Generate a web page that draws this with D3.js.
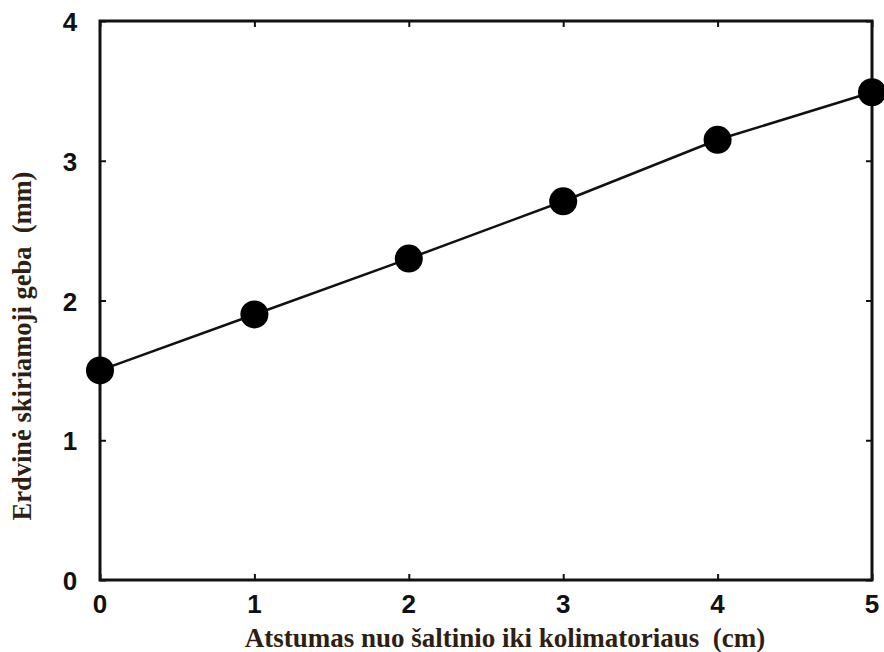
<!DOCTYPE html>
<html lang="lt">
<head>
<meta charset="utf-8">
<title>Erdvinė skiriamoji geba</title>
<script src="https://cdn.jsdelivr.net/npm/d3@7"></script>
<style>
  body { margin: 0; background: #fff; }
  .tick-label { font-family: "Liberation Sans", Arial, sans-serif; font-weight: bold; font-size: 26px; fill: #111; }
  .title { font-family: "Liberation Serif", "Times New Roman", serif; font-weight: bold; fill: #2e1f12; white-space: pre; }
</style>
</head>
<body>
<script>
// data
var distance = [0, 1, 2, 3, 4, 5];
var resolution = [1.5, 1.9, 2.3, 2.71, 3.15, 3.49];
var xTicks = [0, 1, 2, 3, 4, 5];
var yTicks = [0, 1, 2, 3, 4];

var w = 884, h = 652;
var mLeft = 100, mRight = 872, mTop = 21, mBottom = 580;

var svg = d3.select("body").append("svg")
  .attr("width", w)
  .attr("height", h);

var x = d3.scaleLinear().domain([0, 5]).range([mLeft, mRight]);
var y = d3.scaleLinear().domain([0, 4]).range([mBottom, mTop]);

// inward ticks on all sides
function ticks(axis, tx, ty) {
  svg.append("g")
    .attr("transform", "translate(" + tx + "," + ty + ")")
    .call(axis.tickSize(-6).tickFormat(""))
    .call(g => g.select(".domain").remove())
    .selectAll("line").attr("stroke", "#111").attr("stroke-width", 2);
}
ticks(d3.axisBottom(x).tickValues(xTicks), 0, mBottom);
ticks(d3.axisTop(x).tickValues(xTicks), 0, mTop);
ticks(d3.axisLeft(y).tickValues(yTicks), mLeft, 0);
ticks(d3.axisRight(y).tickValues(yTicks), mRight, 0);

// frame
svg.append("rect")
  .attr("x", mLeft).attr("y", mTop)
  .attr("width", mRight - mLeft).attr("height", mBottom - mTop)
  .attr("fill", "none").attr("stroke", "#111").attr("stroke-width", 3);

// tick labels
svg.selectAll(".xl").data(xTicks).enter().append("text")
  .attr("class", "tick-label")
  .attr("x", function(d){ return x(d); })
  .attr("y", 613)
  .attr("text-anchor", "middle")
  .text(function(d){ return d; });

svg.selectAll(".yl").data(yTicks).enter().append("text")
  .attr("class", "tick-label")
  .attr("x", 70)
  .attr("y", function(d){ return y(d) + 10; })
  .attr("text-anchor", "middle")
  .text(function(d){ return d; });

// line + markers
var line = d3.line()
  .x(function(d, i){ return x(distance[i]); })
  .y(function(d){ return y(d); });

svg.append("path")
  .datum(resolution)
  .attr("d", line)
  .attr("fill", "none")
  .attr("stroke", "#111")
  .attr("stroke-width", 2.5);

svg.selectAll("circle").data(resolution).enter().append("circle")
  .attr("cx", function(d, i){ return x(distance[i]); })
  .attr("cy", function(d){ return y(d); })
  .attr("r", 14)
  .attr("fill", "#000");

// axis titles
svg.append("text")
  .attr("class", "title")
  .attr("x", 505).attr("y", 647)
  .attr("text-anchor", "middle")
  .attr("font-size", 27)
  .text("Atstumas nuo šaltinio iki kolimatoriaus  (cm)");

svg.append("text")
  .attr("class", "title")
  .attr("transform", "translate(31,346) rotate(-90)")
  .attr("text-anchor", "middle")
  .attr("font-size", 26.5)
  .text("Erdvinė skiriamoji geba  (mm)");
</script>
</body>
</html>
